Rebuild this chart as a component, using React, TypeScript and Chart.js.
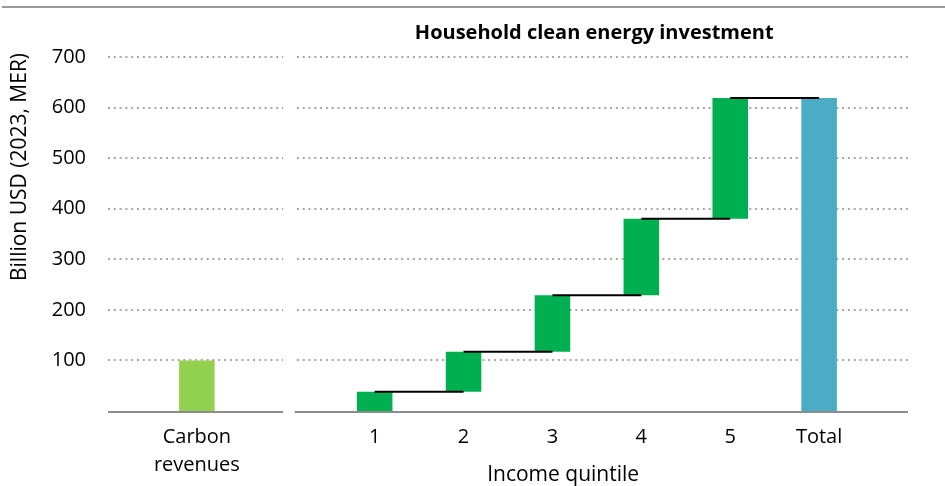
import React, { useEffect, useRef } from 'react';
import { Chart, registerables } from 'chart.js';

Chart.register(...registerables);

// ---- Data ----
const carbonLabel = ['Carbon', 'revenues'];
const carbonRevenues = [100];
const quintileLabels = ['1', '2', '3', '4', '5'];
const quintileInvestment = [38, 79, 112, 151, 239];
const totalLabel = 'Total';
const totalInvestment = [619];
const yTickValues = [100, 200, 300, 400, 500, 600, 700];
const chartTitle = 'Household clean energy investment';
const xAxisTitle = 'Income quintile';
const yAxisTitle = 'Billion USD (2023, MER)';

// category positions on the shared x axis
const carbonPos = -1;
const quintilePos = [1, 2, 3, 4, 5];
const totalPos = 6;

const FONT = '"Open Sans", "DejaVu Sans", sans-serif';

export default function App() {
  const ref = useRef<HTMLCanvasElement | null>(null);

  useEffect(() => {
    if (!ref.current) return;

    // cumulative waterfall
    const cum: number[] = [];
    quintileInvestment.reduce((acc, v) => {
      cum.push(acc + v);
      return acc + v;
    }, 0);

    const barData: any[] = [
      { x: carbonPos, y: [0, carbonRevenues[0]] },
      ...quintilePos.map((p, i) => ({ x: p, y: [i === 0 ? 0 : cum[i - 1], cum[i]] })),
      { x: totalPos, y: [0, totalInvestment[0]] },
    ];
    const barColors = ['#92D050', ...quintilePos.map(() => '#00B050'), '#4BACC6'];

    const connectorData: any[] = [];
    const stops = [...quintilePos, totalPos];
    for (let i = 0; i < quintilePos.length; i++) {
      connectorData.push({ x: stops[i], y: cum[i] });
      connectorData.push({ x: stops[i + 1], y: cum[i] });
      connectorData.push({ x: stops[i + 1], y: null });
    }

    const tickLabel: Record<string, any> = {};
    tickLabel[String(carbonPos)] = carbonLabel;
    quintilePos.forEach((p, i) => (tickLabel[String(p)] = quintileLabels[i]));
    tickLabel[String(totalPos)] = totalLabel;
    const tickPositions = [carbonPos, ...quintilePos, totalPos];

    const decor = {
      id: 'decor',
      beforeDatasetsDraw(chart: any) {
        const { ctx, scales } = chart;
        const x = scales.x;
        const y = scales.y;
        ctx.save();
        // dotted gridlines, two panels
        ctx.strokeStyle = '#A6A6A6';
        ctx.lineWidth = 2;
        ctx.setLineDash([2, 3.8]);
        const segs = [
          [-2, -0.03],
          [0.125, 7],
        ];
        for (const v of yTickValues) {
          const py = Math.round(y.getPixelForValue(v));
          for (const [a, b] of segs) {
            ctx.beginPath();
            ctx.moveTo(x.getPixelForValue(a), py);
            ctx.lineTo(x.getPixelForValue(b), py);
            ctx.stroke();
          }
        }
        // axis lines
        ctx.setLineDash([]);
        ctx.strokeStyle = '#8C8C8C';
        const p0 = Math.round(y.getPixelForValue(0)) + 1;
        for (const [a, b] of [
          [-2, -0.03],
          [0.1, 7],
        ]) {
          ctx.beginPath();
          ctx.moveTo(x.getPixelForValue(a), p0);
          ctx.lineTo(x.getPixelForValue(b), p0);
          ctx.stroke();
        }
        ctx.restore();
      },
      afterDraw(chart: any) {
        const { ctx, chartArea, scales } = chart;
        const x = scales.x;
        ctx.save();
        // top rule
        ctx.fillStyle = '#999999';
        ctx.fillRect(2, 6, chart.width - 2, 2);
        // title
        ctx.fillStyle = '#000000';
        ctx.font = `bold 20px ${FONT}`;
        ctx.textAlign = 'center';
        ctx.textBaseline = 'alphabetic';
        ctx.fillText(chartTitle, x.getPixelForValue(3.47), chartArea.top - 18);
        // x axis title
        ctx.font = `21px ${FONT}`;
        ctx.fillText(xAxisTitle, x.getPixelForValue(3.12), chartArea.bottom + 70);
        // y axis title
        ctx.translate(20, chartArea.top + 110);
        ctx.rotate(-Math.PI / 2);
        ctx.textBaseline = 'middle';
        ctx.fillText(yAxisTitle, 0, 0);
        ctx.restore();
      },
    };

    const chart = new Chart(ref.current, {
      type: 'bar',
      data: {
        datasets: [
          {
            type: 'line',
            data: connectorData,
            borderColor: '#000000',
            borderWidth: 2,
            pointRadius: 0,
            spanGaps: false,
            order: 0,
          } as any,
          {
            type: 'bar',
            data: barData,
            backgroundColor: barColors,
            borderWidth: 0,
            barPercentage: 0.4,
            categoryPercentage: 1,
            order: 1,
          } as any,
        ],
      },
      options: {
        responsive: false,
        animation: false,
        devicePixelRatio: 1,
        layout: { padding: { left: 0, right: 37, top: 57, bottom: 0 } },
        plugins: { legend: { display: false }, tooltip: { enabled: false }, title: { display: false } },
        scales: {
          x: {
            type: 'linear',
            min: -2,
            max: 7,
            offset: false,
            grid: { display: false, drawTicks: false },
            border: { display: false },
            afterBuildTicks: (axis: any) => {
              axis.ticks = tickPositions.map((v) => ({ value: v }));
            },
            afterFit: (axis: any) => {
              axis.height = 75;
            },
            ticks: {
              autoSkip: false,
              maxRotation: 0,
              minRotation: 0,
              padding: 12,
              color: '#000000',
              font: { family: FONT, size: 20, lineHeight: 1.4 },
              callback: (v: any) => tickLabel[String(v)] ?? '',
            },
          },
          y: {
            min: 0,
            max: 700,
            grid: { display: false, drawTicks: false },
            border: { display: false },
            afterFit: (axis: any) => {
              axis.width = 108;
            },
            ticks: {
              stepSize: 100,
              padding: 22,
              color: '#000000',
              font: { family: FONT, size: 20 },
              callback: (v: any) => (v === 0 ? '' : String(v)),
            },
          },
        },
      },
      plugins: [decor],
    });

    return () => chart.destroy();
  }, []);

  return (
    <div style={{ position: 'fixed', left: 0, top: 0, width: 945, height: 486, background: '#ffffff' }}>
      <canvas ref={ref} width={945} height={486} style={{ display: 'block' }} />
    </div>
  );
}
